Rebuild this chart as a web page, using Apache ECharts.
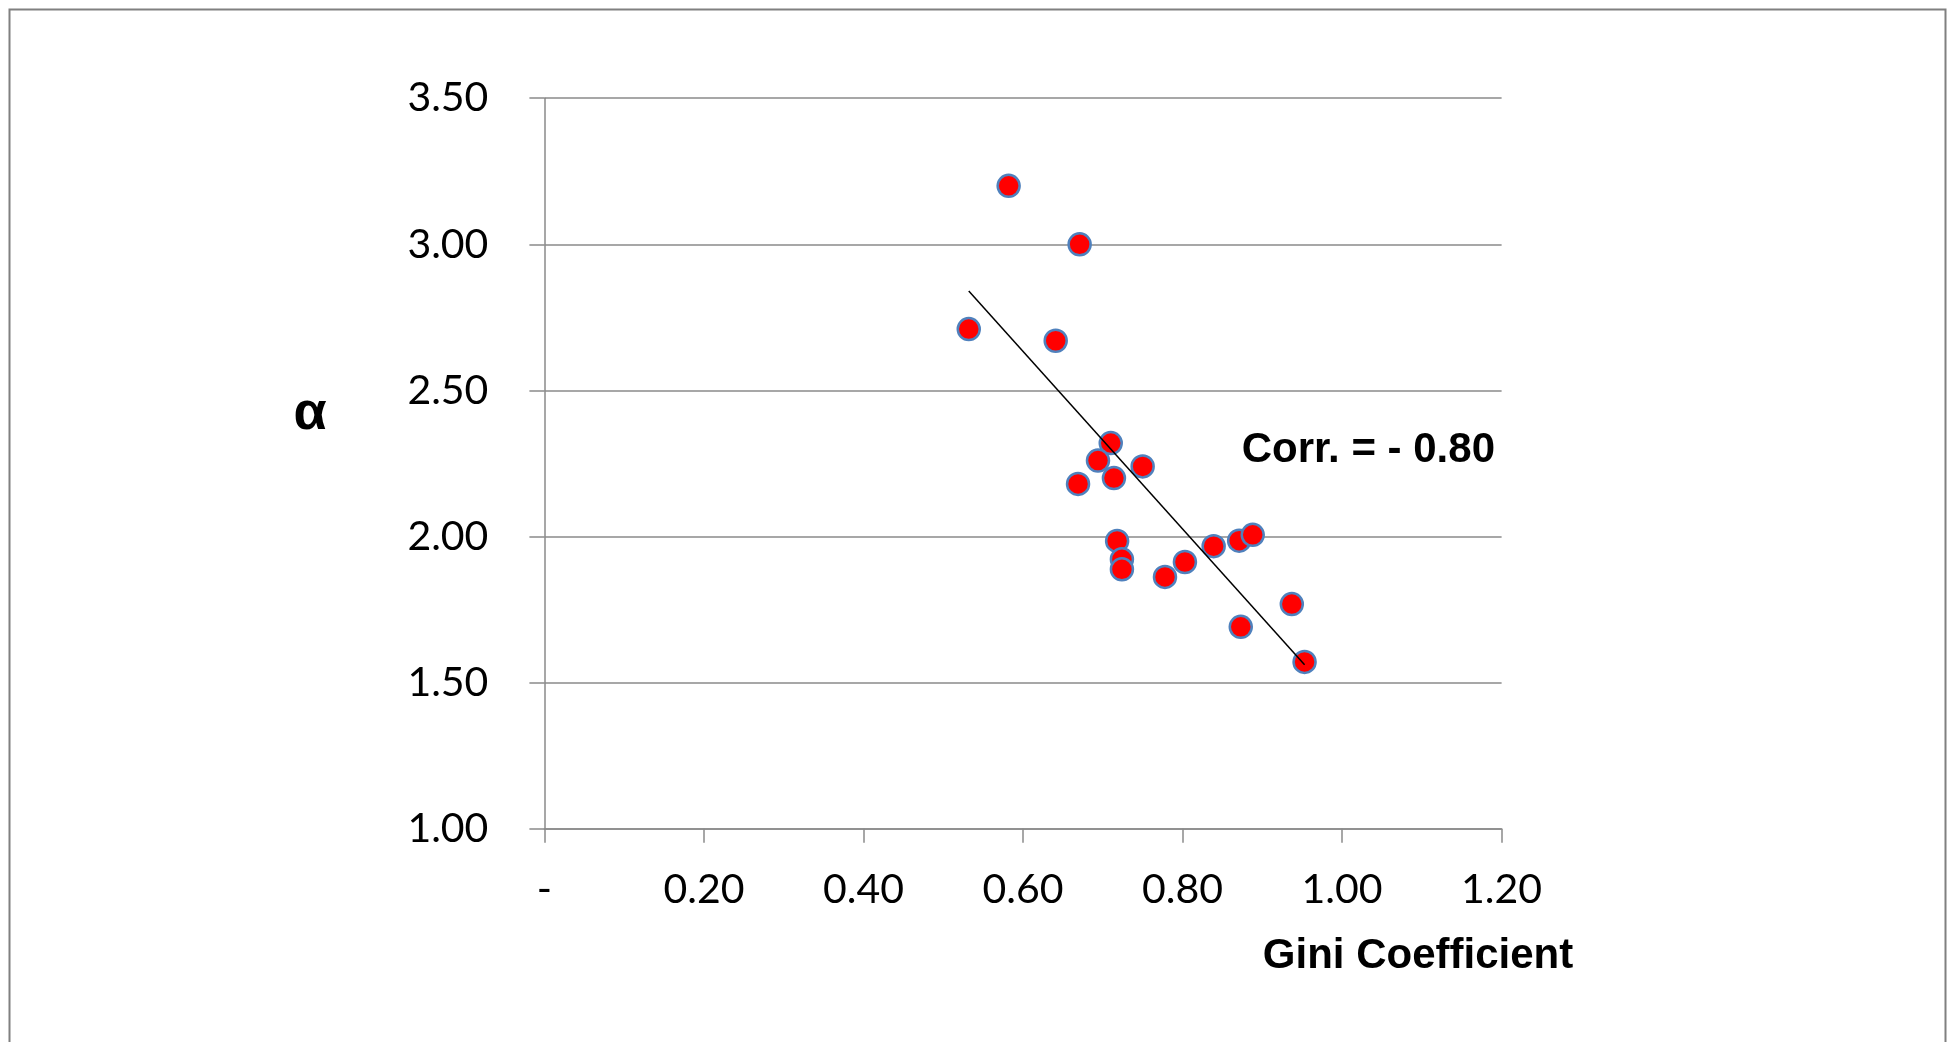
<!DOCTYPE html>
<html>
<head>
<meta charset="utf-8">
<script src="https://cdn.jsdelivr.net/npm/echarts@6/dist/echarts.min.js"></script>
<style>
html,body{margin:0;padding:0;background:#fff;}
#chart{width:1949px;height:1042px;}
</style>
</head>
<body>
<div id="chart"></div>
<script>
// Data
const gini  = [0.582, 0.671, 0.532, 0.641, 0.710, 0.694, 0.750, 0.714, 0.669, 0.718, 0.724, 0.724, 0.778, 0.803, 0.839, 0.871, 0.888, 0.937, 0.873, 0.953];
const alpha = [3.20, 3.00, 2.71, 2.67, 2.32, 2.26, 2.24, 2.20, 2.18, 1.985, 1.922, 1.888, 1.862, 1.913, 1.967, 1.986, 2.006, 1.769, 1.691, 1.571];
const xAxisName = 'Gini Coefficient';
const yAxisName = 'α';
const corrText = 'Corr. = - 0.80';

// Linear trend line (least squares) over the data range
function trend(xs, ys) {
  const n = xs.length;
  let sx = 0, sy = 0, sxx = 0, sxy = 0;
  for (let i = 0; i < n; i++) { sx += xs[i]; sy += ys[i]; sxx += xs[i]*xs[i]; sxy += xs[i]*ys[i]; }
  const b = (n*sxy - sx*sy) / (n*sxx - sx*sx);
  const a = (sy - b*sx) / n;
  const x0 = Math.min(...xs), x1 = Math.max(...xs);
  return [[x0, a + b*x0], [x1, a + b*x1]];
}
const points = gini.map((g, i) => [g, alpha[i]]);
const trendLine = trend(gini, alpha);

const chart = echarts.init(document.getElementById('chart'), null, {renderer: 'canvas'});
const gray = '#8a8a8a';
const labelFont = {fontFamily: 'Lato', fontSize: 41, color: '#000'};
chart.setOption({
  animation: false,
  backgroundColor: '#fff',
  grid: {left: 544.4, right: 447.4, top: 98.2, bottom: 213.2, containLabel: false},
  xAxis: {
    type: 'value', min: 0, max: 1.2, interval: 0.2,
    axisLine: {show: true, onZero: false, lineStyle: {color: gray, width: 1.5}},
    axisTick: {show: true, inside: false, length: 14, lineStyle: {color: gray, width: 1.5}},
    splitLine: {show: false},
    axisLabel: Object.assign({margin: 40, formatter: v => Math.abs(v) < 1e-9 ? '-' : v.toFixed(2)}, labelFont)
  },
  yAxis: {
    type: 'value', min: 1, max: 3.5, interval: 0.5,
    axisLine: {show: true, onZero: false, lineStyle: {color: gray, width: 1.5}},
    axisTick: {show: true, inside: false, length: 15, lineStyle: {color: gray, width: 1.5}},
    splitLine: {show: true, lineStyle: {color: gray, width: 1.5}},
    axisLabel: Object.assign({margin: 56, formatter: v => v.toFixed(2)}, labelFont)
  },
  series: [
    {
      type: 'scatter', data: points, symbol: 'circle', symbolSize: 22, z: 3,
      itemStyle: {color: '#ff0000', borderColor: '#4F81BD', borderWidth: 2.5, opacity: 1}
    },
    {
      type: 'line', data: trendLine, symbol: 'none', z: 4, silent: true,
      lineStyle: {color: '#000', width: 1.5}
    }
  ],
  graphic: [
    {type: 'rect', left: 7, top: 7, shape: {width: 1936, height: 1060}, style: {fill: 'none', stroke: '#808080', lineWidth: 2}, silent: true},
    {type: 'text', x: 1418, y: 956, style: {text: xAxisName, font: 'bold 42px "Liberation Sans", Arial, sans-serif', fill: '#000', textAlign: 'center', textVerticalAlign: 'middle'}},
    {type: 'text', x: 310, y: 414, style: {text: yAxisName, font: 'bold 54px "Liberation Sans", Arial, sans-serif', fill: '#000', textAlign: 'center', textVerticalAlign: 'middle'}},
    {type: 'text', x: 1495, y: 450, style: {text: corrText, font: 'bold 42px "Liberation Sans", Arial, sans-serif', fill: '#000', textAlign: 'right', textVerticalAlign: 'middle'}}
  ]
});
</script>
</body>
</html>
